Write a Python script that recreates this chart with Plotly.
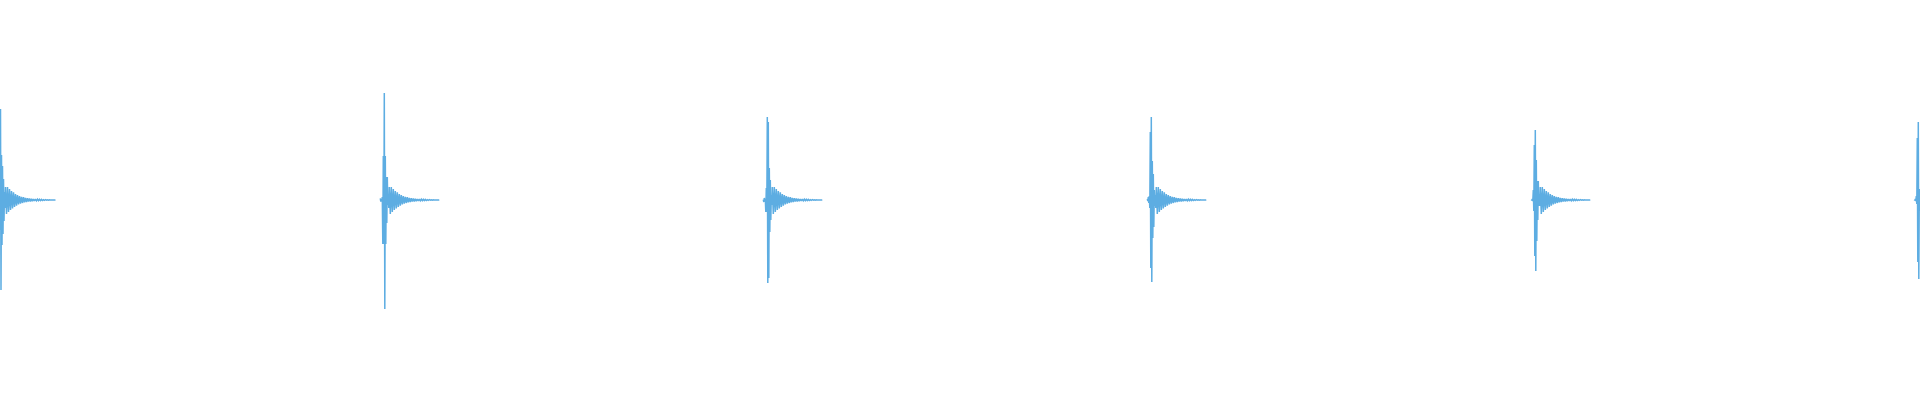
import plotly.graph_objects as go

# Onset (sample position of the main spike) of each click
pulse_onsets = [0.5, 384.3, 767.3, 1151.3, 1535.3, 1918.3]

# Attack samples of each click (half-sample spacing, starting 4 samples before onset)
head_p1 = [5, -5, 2, -2, 10, -15, 50, -150, 455, -450, 225, -225, 170, -170, 105, -105, 40, -40]
head_p2 = [8, -8, 2, -2, 15, -220, 220, -220, 535, -545, 220, -220, 115, -115, 115, -25, 25, -40]
head_p3 = [2, -10, 10, -2, 5, -60, 60, -60, 415, -415, 390, -390, 160, -160, 100, -100, 25, -25]
head_p4 = [5, -5, 15, -15, 20, -40, 340, -340, 415, -410, 195, -190, 130, -135, 50, -30, 25, -40]
head_p5 = [2, -2, 5, -5, 50, -55, 275, -280, 350, -355, 200, -205, 95, -100, 95, -30, 30, -30]
head_p6 = [2, -2, 5, -5, 20, -20, 310, -310, 390, -395, 55, -55, 55, -55, 40, -30, 30, -40]
heads = [head_p1, head_p2, head_p3, head_p4, head_p5, head_p6]

# Ring-down samples (unit spacing, starting 5 samples after onset)
ring_down = [65, -70, 65, -60, 55, -50, 45, -42, 38, -35, 30, -28, 25, -22, 20, -18,
             16, -15, 14, -12, 11, -10, 9, -8, 7.5, -7, 6, -5.5, 5, -5, 4.5, -4, 4,
             -3.5, 3.5, -3, 3, -2.5, 2, -1.5, 1.5, -1, 1, -1, 1, -0.5, 0.5, -0.5, 0.5,
             -0.5, 0]

HEAD_START, HEAD_STEP = -4.0, 0.5
TAIL_START, TAIL_STEP = 5.0, 1.0

xs, ys = [], []
for onset, head in zip(pulse_onsets, heads):
    for i, v in enumerate(head):
        xs.append(onset + HEAD_START + i * HEAD_STEP)
        ys.append(v)
    for i, v in enumerate(ring_down):
        xs.append(onset + TAIL_START + i * TAIL_STEP)
        ys.append(v)
    xs.append(None)
    ys.append(None)

fig = go.Figure(go.Scatter(
    x=xs, y=ys, mode="lines",
    line=dict(color="#5DADE2", width=1.5, simplify=False),
    connectgaps=False, hoverinfo="skip",
))
fig.update_layout(
    width=1920, height=400,
    margin=dict(l=0, r=0, t=0, b=0),
    paper_bgcolor="white", plot_bgcolor="white",
    showlegend=False,
    xaxis=dict(range=[0, 1920], visible=False, showgrid=False, zeroline=False),
    yaxis=dict(range=[-1000, 1000], visible=False, showgrid=False, zeroline=False),
)
fig.write_html(
    "out.html",
    config={"displayModeBar": False, "staticPlot": True},
    post_script="document.body.style.margin='0';document.body.style.overflow='hidden';",
)
